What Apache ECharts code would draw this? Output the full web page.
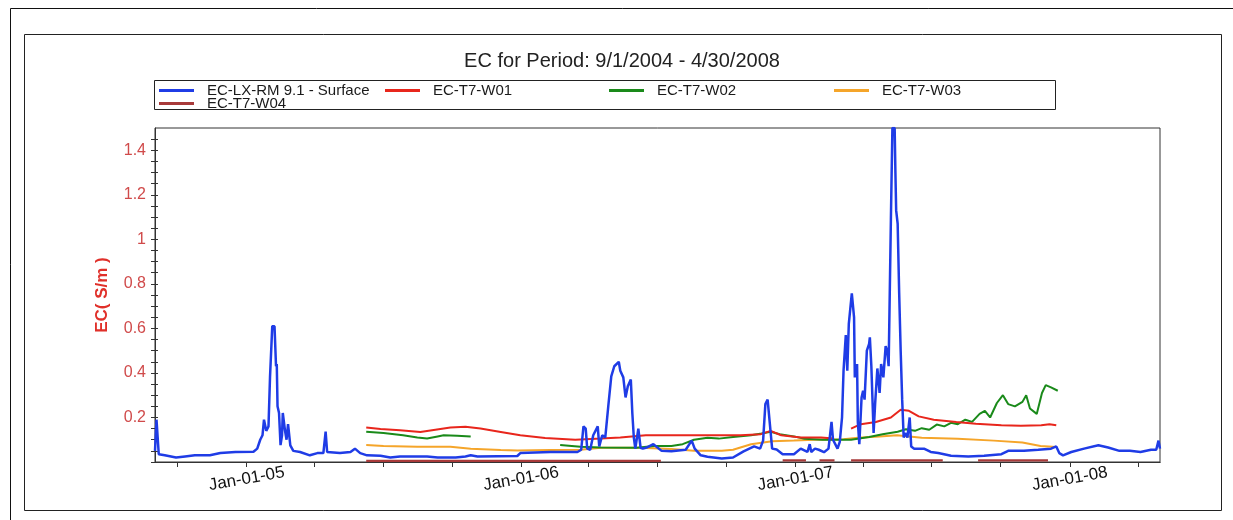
<!DOCTYPE html>
<html><head><meta charset="utf-8">
<script src="https://cdn.jsdelivr.net/npm/echarts@6/dist/echarts.min.js"></script>
<style>html,body{margin:0;padding:0;background:#fff}#c{width:1233px;height:520px}</style>
</head><body><div id="c"></div>
<script>
// ---- data ----
const chartTitle = 'EC for Period: 9/1/2004 - 4/30/2008';
const yAxisName = 'EC( S/m )';
const START_DATE = '2004-09-01';
const END_DATE = '2008-04-30';
const seriesNames = ['EC-LX-RM 9.1 - Surface', 'EC-T7-W01', 'EC-T7-W02', 'EC-T7-W03', 'EC-T7-W04'];
const seriesColors = ['#1f3ce6', '#e8261c', '#1a8a1a', '#f5a52a', '#a83a3a'];

// day offsets from START_DATE and EC values (S/m)
const blueDays = [0,2,4,5,13,28,40,53,73,87,107,131,136,140,143,145,148,151,153,156,159,161,162,163,165,167,169,170,173,175,177,180,184,193,206,216,224,227,229,246,260,266,273,282,300,313,326,362,376,400,413,420,429,482,486,526,562,567,570,573,575,579,583,589,591,595,599,603,607,611,617,619,623,626,629,633,635,637,639,643,646,649,654,663,674,687,706,714,718,720,726,735,754,769,783,797,805,809,812,815,818,821,827,835,850,859,868,871,873,878,883,890,896,900,902,908,911,914,916,919,921,923,927,930,931,934,935,937,940,942,944,947,950,951,953,956,958,961,964,966,969,972,974,976,979,981,984,985,986,988,990,992,994,996,999,1001,1004,1006,1010,1023,1032,1042,1059,1082,1103,1126,1135,1156,1175,1192,1199,1203,1208,1219,1236,1255,1268,1283,1297,1311,1325,1332,1335,1337];
const blueEC = [0.05,0.19,0.19,0.035,0.03,0.02,0.025,0.03,0.03,0.04,0.045,0.046,0.06,0.1,0.12,0.19,0.14,0.16,0.38,0.61,0.61,0.43,0.44,0.25,0.22,0.076,0.12,0.22,0.14,0.1,0.17,0.075,0.05,0.045,0.03,0.04,0.04,0.136,0.045,0.04,0.045,0.06,0.04,0.03,0.028,0.02,0.025,0.025,0.02,0.02,0.025,0.03,0.025,0.027,0.04,0.045,0.045,0.055,0.16,0.15,0.06,0.055,0.12,0.16,0.07,0.12,0.11,0.25,0.385,0.43,0.45,0.41,0.38,0.29,0.34,0.37,0.22,0.11,0.06,0.15,0.064,0.06,0.065,0.08,0.05,0.048,0.055,0.096,0.06,0.065,0.03,0.024,0.016,0.02,0.048,0.07,0.06,0.096,0.26,0.28,0.17,0.06,0.056,0.035,0.035,0.06,0.045,0.08,0.045,0.06,0.055,0.044,0.06,0.18,0.1,0.06,0.09,0.2,0.41,0.57,0.41,0.62,0.757,0.65,0.38,0.44,0.18,0.08,0.29,0.32,0.28,0.5,0.53,0.56,0.43,0.13,0.26,0.42,0.31,0.44,0.38,0.52,0.5,0.43,1.09,1.5,1.5,1.3,1.13,1.07,0.76,0.5,0.28,0.11,0.13,0.11,0.2,0.07,0.06,0.06,0.045,0.04,0.028,0.025,0.028,0.035,0.05,0.05,0.055,0.06,0.07,0.04,0.03,0.045,0.06,0.075,0.065,0.05,0.05,0.045,0.055,0.055,0.096,0.06];

const w01Days = [281,300,326,353,373,393,413,433,460,486,519,559,593,619,653,699,739,779,806,819,833,859,886,903,915,926,939,959,979,992,1003,1016,1036,1066,1092,1126,1152,1179,1190,1199];
const w01EC = [0.155,0.148,0.143,0.135,0.145,0.155,0.158,0.15,0.135,0.12,0.108,0.1,0.105,0.11,0.12,0.12,0.12,0.12,0.125,0.14,0.12,0.11,0.11,0.105,null,0.15,0.17,0.18,0.2,0.235,0.23,0.205,0.19,0.18,0.172,0.165,0.163,0.165,0.17,0.165];

const w02Days = [281,304,330,349,362,376,384,402,420,490,539,566,593,641,664,687,702,717,735,750,769,793,807,819,831,850,864,888,926,950,968,988,999,1011,1020,1030,1040,1050,1059,1068,1078,1087,1097,1104,1111,1120,1128,1135,1144,1154,1159,1164,1173,1180,1185,1192,1201];
const w02EC = [0.136,0.13,0.12,0.11,0.106,0.115,0.12,0.118,0.115,null,0.076,0.068,0.065,0.064,0.072,0.072,0.08,0.1,0.109,0.105,0.112,0.12,0.128,0.136,0.125,0.115,0.104,0.1,0.1,0.112,0.125,0.136,0.147,0.14,0.152,0.145,0.168,0.16,0.176,0.17,0.19,0.18,0.216,0.23,0.2,0.265,0.3,0.26,0.25,0.27,0.3,0.24,0.216,0.31,0.345,0.335,0.32];

const w03Days = [281,304,349,393,420,460,482,526,566,593,646,687,717,754,769,793,821,850,878,916,935,964,987,1020,1068,1116,1154,1178,1199];
const w03EC = [0.076,0.072,0.068,0.068,0.06,0.054,0.052,0.054,0.055,0.064,0.064,0.058,0.05,0.05,0.055,0.08,0.093,0.096,0.1,0.102,0.109,0.115,0.12,0.109,0.104,0.096,0.088,0.072,0.067];

const w04Days = [281,673,690,835,866,875,884,904,915,926,1048,1070,1095,1188];
const w04EC = [0.005,0.005,null,0.007,0.007,null,0.007,0.007,null,0.007,0.007,null,0.007,0.007];

const xTickDates = ['2004-10-01','2005-01-01','2005-04-01','2005-07-01','2005-10-01','2006-01-01','2006-04-01','2006-07-01','2006-10-01','2007-01-01','2007-04-01','2007-07-01','2007-10-01','2008-01-01','2008-04-01'];
const xLabelDates = ['2005-01-01','2006-01-01','2007-01-01','2008-01-01'];
const yTickValues = [0,0.05,0.1,0.15,0.2,0.25,0.3,0.35,0.4,0.45,0.5,0.55,0.6,0.65,0.7,0.75,0.8,0.85,0.9,0.95,1,1.05,1.1,1.15,1.2,1.25,1.3,1.35,1.4,1.45];
const yLabelValues = [0.2,0.4,0.6,0.8,1,1.2,1.4];
const yMin = 0, yMax = 1.5;

// ---- helpers ----
const DAY = 86400000;
function toTs(s){ const p = s.split('-').map(Number); return Date.UTC(p[0], p[1]-1, p[2]); }
const t0 = toTs(START_DATE);
function pairs(days, vals){ return days.map((d,i)=>[t0 + d*DAY, vals[i]]); }
const MONTHS = ['Jan','Feb','Mar','Apr','May','Jun','Jul','Aug','Sep','Oct','Nov','Dec'];
function fmtDate(v){ const d = new Date(v); return MONTHS[d.getUTCMonth()] + '-' + String(d.getUTCDate()).padStart(2,'0') + '-' + String(d.getUTCFullYear()).slice(2); }

const FONT = 'Liberation Sans, Arial, sans-serif';
const row1 = 83, row2 = 96;
const legendPos = [[159,row1],[385,row1],[609,row1],[834,row1],[159,row2]];

const seriesData = [pairs(blueDays, blueEC), pairs(w01Days, w01EC), pairs(w02Days, w02EC), pairs(w03Days, w03EC), pairs(w04Days, w04EC)];
const widths = [2.5, 2, 2, 2, 2.2];
const drawOrder = [4,3,2,1,0];

const chart = echarts.init(document.getElementById('c'), null, {renderer:'canvas'});
chart.setOption({
  animation: false,
  backgroundColor: '#fff',
  textStyle: {fontFamily: FONT},
  title: {text: chartTitle, left: 622, top: 51, textAlign: 'center', padding: 0,
    textStyle: {fontSize: 20, fontWeight: 'normal', color: '#222', fontFamily: FONT}},
  legend: seriesNames.map((n,i)=>({
    data: [n], left: legendPos[i][0], top: legendPos[i][1], padding: 0, selectedMode: false,
    icon: 'rect', itemWidth: 35, itemHeight: 3,
    textStyle: {fontSize: 15, lineHeight: 15, color: '#1a1a1a', fontFamily: FONT, padding: [0,0,0,8]}
  })),
  graphic: [
    {type:'rect', shape:{x:10.5, y:8.5, width:1240, height:540}, style:{fill:'none', stroke:'#111', lineWidth:1}, silent:true},
    {type:'rect', shape:{x:24.5, y:34.5, width:1197, height:476}, style:{fill:'none', stroke:'#222', lineWidth:1}, silent:true},
    {type:'rect', shape:{x:154.5, y:80.5, width:901, height:29}, style:{fill:'none', stroke:'#222', lineWidth:1}, silent:true}
  ],
  grid: {left: 155, right: 73, top: 128, bottom: 58, show: true, borderColor: '#333', borderWidth: 1, backgroundColor: 'transparent'},
  xAxis: [
    {type:'value', position:'bottom', min: toTs(START_DATE), max: toTs(END_DATE),
      axisLine:{show:true, lineStyle:{color:'#333', width:1}},
      axisTick:{show:true, customValues: xTickDates.map(toTs), length:5, lineStyle:{color:'#333'}},
      axisLabel:{show:true, customValues: xLabelDates.map(toTs), formatter: fmtDate, rotate: 10, align:'center', verticalAlign:'middle', margin: 17, fontSize: 17, color:'#111', fontFamily: FONT},
      splitLine:{show:false}},
    {type:'value', position:'top', min: toTs(START_DATE), max: toTs(END_DATE),
      axisLine:{show:true, lineStyle:{color:'#333', width:1}},
      axisTick:{show:true, inside:true, customValues: xTickDates.map(toTs), length:5, lineStyle:{color:'#333'}},
      axisLabel:{show:false}, splitLine:{show:false}}
  ],
  yAxis: [
    {type:'value', position:'left', min: yMin, max: yMax,
      axisLine:{show:true, lineStyle:{color:'#333', width:1}},
      axisTick:{show:true, customValues: yTickValues, length:4, lineStyle:{color:'#333'}},
      axisLabel:{show:true, customValues: yLabelValues, formatter: v => String(+(+v).toFixed(2)), fontSize: 16, color:'#d04a4a', margin: 9, fontFamily: FONT},
      splitLine:{show:false},
      name: yAxisName, nameLocation:'middle', nameRotate: 90, nameGap: 44,
      nameTextStyle:{color:'#e0302a', fontWeight:'bold', fontSize: 17, fontFamily: FONT}},
    {type:'value', position:'left', min: yMin, max: yMax,
      axisLine:{show:false},
      axisTick:{show:true, inside:true, customValues: yTickValues, length:3, lineStyle:{color:'#333'}},
      axisLabel:{show:false}, splitLine:{show:false}}
  ],
  series: drawOrder.map(i => ({
    name: seriesNames[i], type:'line', data: seriesData[i], showSymbol:false, symbol:'none',
    xAxisIndex:0, yAxisIndex:0, connectNulls:false, clip:true,
    color: seriesColors[i], lineStyle:{color: seriesColors[i], width: widths[i]},
    z: 2 + (4 - i)
  }))
});
</script>
</body></html>
